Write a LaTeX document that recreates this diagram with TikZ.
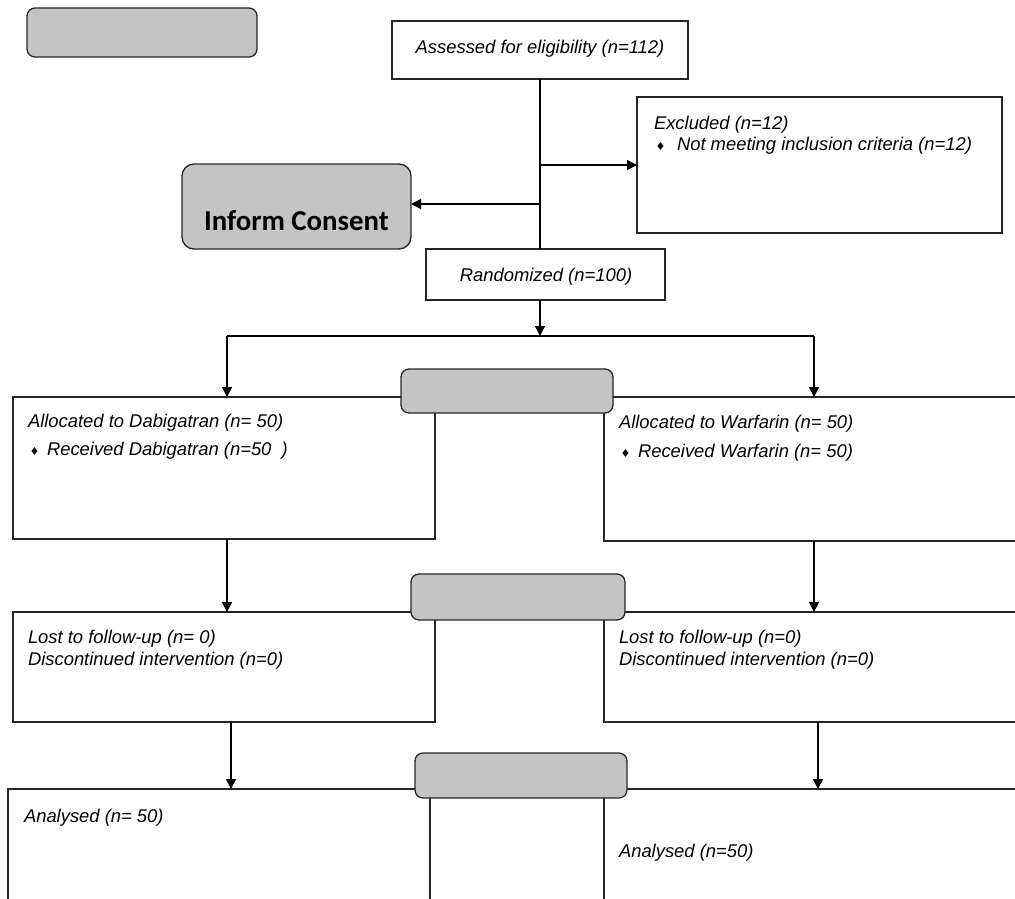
\documentclass[tikz,border=0pt]{standalone}
\usepackage{fontspec}
\setmainfont{Liberation Sans}
\newfontfamily\headfont{Carlito}
\newfontfamily\symf{DejaVu Sans}
\usetikzlibrary{arrows.meta}

% small diamond bullet followed by a fixed indent
\newcommand{\dmdbullet}[1]{\makebox[#1][l]{\hspace{0.5pt}{\symf\fontsize{11}{11}\selectfont ♦}}}

\begin{document}
\begin{tikzpicture}[x=1pt,y=-1pt,
  every node/.style={inner sep=0pt,outer sep=0pt},
  box/.style={draw=black!85,line width=1.3pt,rectangle},
  graybox/.style={draw=black!85,line width=1.3pt,fill=black!23,rounded corners=8pt},
  txt/.style={anchor=base west,font=\fontsize{18.4}{22}\selectfont\itshape},
  ctxt/.style={anchor=base,font=\fontsize{18.4}{22}\selectfont\itshape},
  link/.style={line width=1.3pt,black},
  arr/.style={link,-{Triangle[length=10pt,width=10pt]}}
]
\useasboundingbox (0,0) rectangle (1015,898);

% header and side boxes
\node[graybox,minimum width=230pt,minimum height=49pt] (topgray) at (142,32.5) {};
\node[graybox,rounded corners=12pt,minimum width=229pt,minimum height=85pt] (consent) at (296.5,206.5) {};
\node[anchor=base,font=\headfont\bfseries\fontsize{28.8}{30}\selectfont] (consenttxt) at (296.5,230) {Inform Consent};

% enrolment
\node[box,minimum width=296pt,minimum height=58pt] (assess) at (540,50) {};
\node[ctxt] (assesstxt) at (540,53) {Assessed for eligibility (n=112)};

\node[box,minimum width=365pt,minimum height=136pt] (excl) at (819.5,165) {};
\node[txt] (excltxt) at (654,129) {Excluded (n=12)};
\node[txt] (excltxtb) at (655,150) {\dmdbullet{22pt}Not meeting inclusion criteria (n=12)};

\node[box,minimum width=239pt,minimum height=51pt] (rand) at (545.5,274.5) {};
\node[ctxt] (randtxt) at (546,281) {Randomized (n=100)};

% allocation
\node[box,minimum width=422pt,minimum height=142pt] (dab) at (224,468) {};
\node[txt] (dabtxt) at (28,427) {Allocated to Dabigatran (n= 50)};
\node[txt] (dabtxtb) at (29,455) {\dmdbullet{18pt}Received Dabigatran (n=50\ \ )};

\node[box,minimum width=426pt,minimum height=144pt] (war) at (817,469) {};
\node[txt] (wartxt) at (619,428) {Allocated to Warfarin (n= 50)};
\node[txt] (wartxtb) at (620,457) {\dmdbullet{18pt}Received Warfarin (n= 50)};

\node[graybox,minimum width=212pt,minimum height=44pt] (gallot) at (507,391) {};

% follow-up
\node[box,minimum width=422pt,minimum height=110pt] (lostl) at (224,667) {};
\node[txt] (lostltxt) at (28,643) {Lost to follow-up (n= 0)};
\node[txt] (lostltxtb) at (28,665) {Discontinued intervention (n=0)};

\node[box,minimum width=426pt,minimum height=110pt] (lostr) at (817,667) {};
\node[txt] (lostrtxt) at (619,643) {Lost to follow-up (n=0)};
\node[txt] (lostrtxtb) at (619,665) {Discontinued intervention (n=0)};

\node[graybox,minimum width=214pt,minimum height=46pt] (gfollow) at (518,597) {};

% analysis
\node[box,minimum width=422pt,minimum height=121pt] (anl) at (219,849.5) {};
\node[txt] (anltxt) at (24,822) {Analysed (n= 50)};

\node[box,minimum width=426pt,minimum height=121pt] (anr) at (817,849.5) {};
\node[txt] (anrtxt) at (619,857) {Analysed (n=50)};

\node[graybox,minimum width=212pt,minimum height=45pt] (ganal) at (521,775.5) {};

% connectors
\coordinate (jexcl) at (540,165);
\coordinate (jcons) at (540,204);
\coordinate (jsplit) at (540,336);
\coordinate (jleft) at (227,336);
\coordinate (jright) at (814,336);
\coordinate (segl) at (468,336);
\coordinate (segr) at (572,336);

\draw[link] (assess.south) -- (rand.north -| assess.south);
\draw[arr] (jexcl) -- (excl.west);
\draw[arr] (jcons) -- (jcons -| consent.east);
\draw[arr] (rand.south -| jsplit) -- (jsplit);
\draw[link] (jleft) -- (jright);
\draw[line width=1.9pt] (segl) -- (segr);
\draw[arr] (jleft) -- (jleft |- dab.north);
\draw[arr] (jright) -- (jright |- war.north);

\draw[arr] (dab.south -| jleft) -- (lostl.north -| jleft);
\draw[arr] (war.south -| jright) -- (lostr.north -| jright);

\coordinate (dl) at (231,722);
\coordinate (dr) at (818,722);
\draw[arr] (dl) -- (dl |- anl.north);
\draw[arr] (dr) -- (dr |- anr.north);
\end{tikzpicture}
\end{document}
